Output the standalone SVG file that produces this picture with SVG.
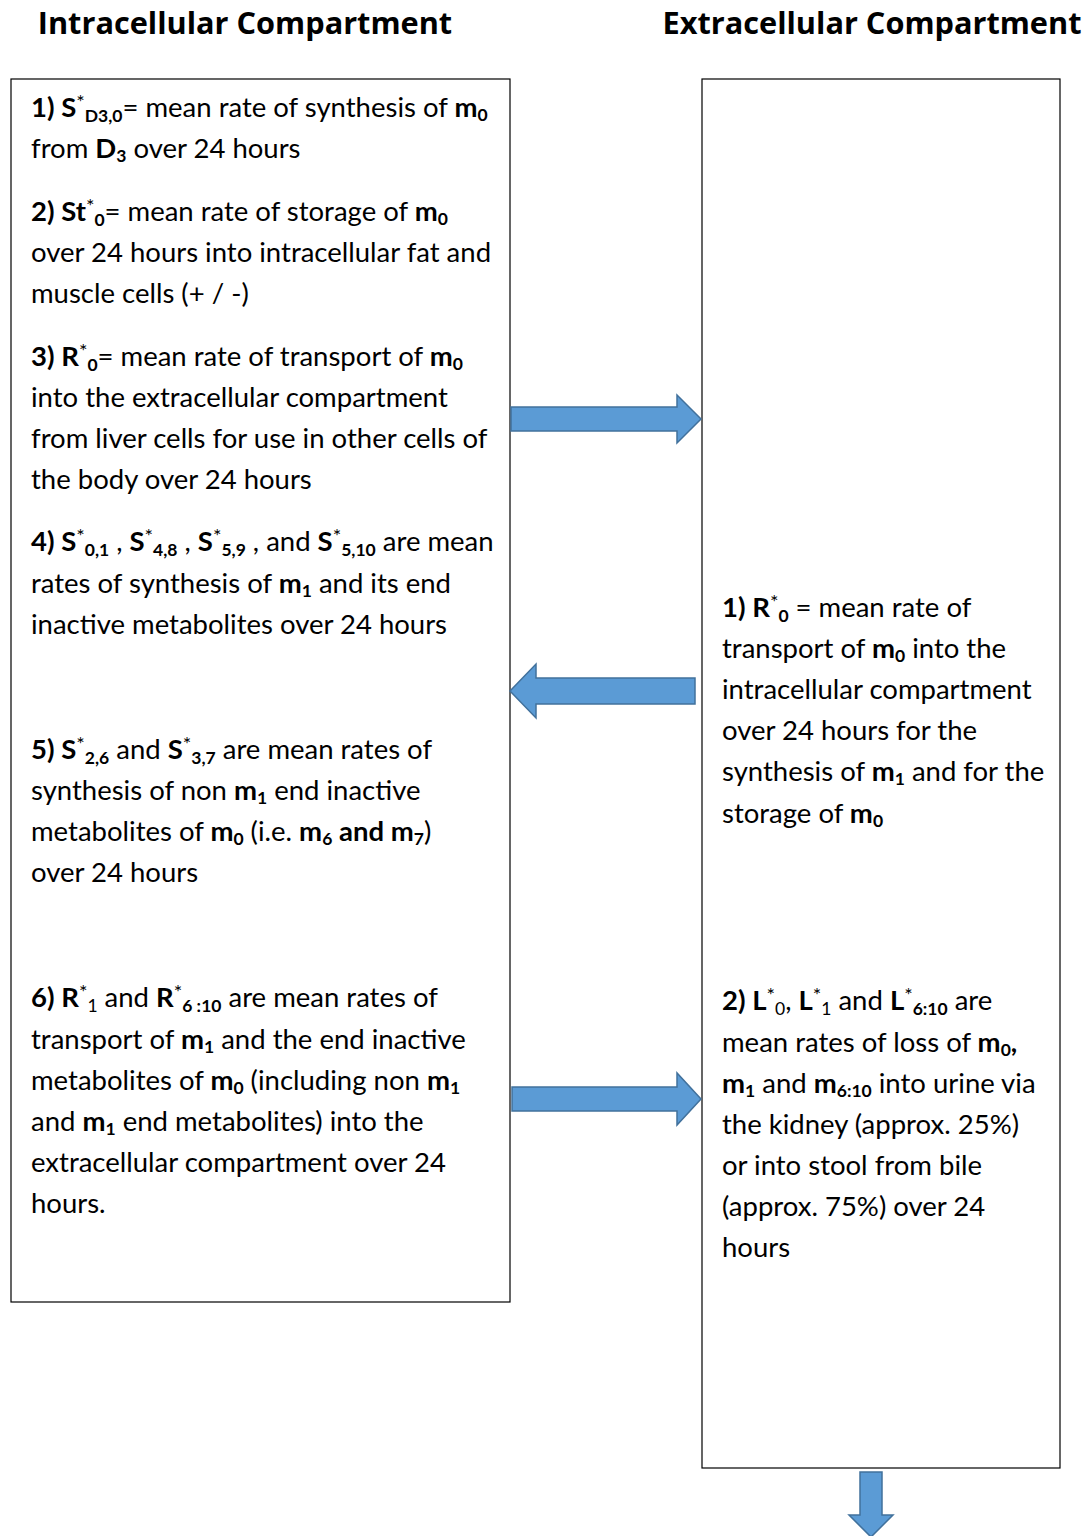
<svg xmlns="http://www.w3.org/2000/svg" width="1086" height="1536" viewBox="0 0 1086 1536">
<style>
.t{font-family:Lato,"Open Sans","Liberation Sans",sans-serif;font-size:27.5px;fill:#000}
.h{font-family:"Open Sans",Lato,"Liberation Sans",sans-serif;font-size:30.7px;font-weight:bold;fill:#000}
.b{font-weight:bold}
.s{font-size:17.5px}
.st{font-size:20px}
.box{fill:#fff;stroke:#000;stroke-width:1.2}
.arr{fill:#5B9BD5;stroke:#41719C;stroke-width:1.5}
</style>
<rect width="1086" height="1536" fill="#fff"/>
<g id="titles">
<text class="h" x="245" y="34" text-anchor="middle">Intracellular Compartment</text>
<text class="h" x="872" y="34" text-anchor="middle">Extracellular Compartment</text>
</g>
<g id="intracellular">
<rect class="box" x="11" y="79" width="499" height="1223"/>
<text class="t" x="31" y="117"><tspan class="b">1) S</tspan><tspan class="st" dy="-8">*</tspan><tspan class="s b" dy="13">D3,0</tspan><tspan dy="-5">= mean rate of synthesis of </tspan><tspan class="b">m</tspan><tspan class="s b" dy="4">0</tspan></text>
<text class="t" x="31" y="158">from <tspan class="b">D</tspan><tspan class="s b" dy="4">3</tspan><tspan dy="-4"> over 24 hours</tspan></text>
<text class="t" x="31" y="221"><tspan class="b">2) St</tspan><tspan class="st" dy="-8">*</tspan><tspan class="s b" dy="13">0</tspan><tspan dy="-5">= mean rate of storage of </tspan><tspan class="b">m</tspan><tspan class="s b" dy="4">0</tspan></text>
<text class="t" x="31" y="262">over 24 hours into intracellular fat and</text>
<text class="t" x="31" y="303">muscle cells (+ / -)</text>
<text class="t" x="31" y="366"><tspan class="b">3) R</tspan><tspan class="st" dy="-8">*</tspan><tspan class="s b" dy="13">0</tspan><tspan dy="-5">= mean rate of transport of </tspan><tspan class="b">m</tspan><tspan class="s b" dy="4">0</tspan></text>
<text class="t" x="31" y="407">into the extracellular compartment</text>
<text class="t" x="31" y="448">from liver cells for use in other cells of</text>
<text class="t" x="31" y="489">the body over 24 hours</text>
<text class="t" x="31" y="551"><tspan class="b">4) S</tspan><tspan class="st" dy="-8">*</tspan><tspan class="s b" dy="13">0,1</tspan><tspan dy="-5"> , </tspan><tspan class="b">S</tspan><tspan class="st" dy="-8">*</tspan><tspan class="s b" dy="13">4,8</tspan><tspan dy="-5"> , </tspan><tspan class="b">S</tspan><tspan class="st" dy="-8">*</tspan><tspan class="s b" dy="13">5,9</tspan><tspan dy="-5"> , and </tspan><tspan class="b">S</tspan><tspan class="st" dy="-8">*</tspan><tspan class="s b" dy="13">5,10</tspan><tspan dy="-5"> are mean</tspan></text>
<text class="t" x="31" y="593">rates of synthesis of <tspan class="b">m</tspan><tspan class="s b" dy="4">1</tspan><tspan dy="-4"> and its end</tspan></text>
<text class="t" x="31" y="634">inactive metabolites over 24 hours</text>
<text class="t" x="31" y="759"><tspan class="b">5) S</tspan><tspan class="st" dy="-8">*</tspan><tspan class="s b" dy="13">2,6</tspan><tspan dy="-5"> and </tspan><tspan class="b">S</tspan><tspan class="st" dy="-8">*</tspan><tspan class="s b" dy="13">3,7</tspan><tspan dy="-5"> are mean rates of</tspan></text>
<text class="t" x="31" y="800">synthesis of non <tspan class="b">m</tspan><tspan class="s b" dy="4">1</tspan><tspan dy="-4"> end inactive</tspan></text>
<text class="t" x="31" y="841">metabolites of <tspan class="b">m</tspan><tspan class="s b" dy="4">0</tspan><tspan dy="-4"> (i.e. </tspan><tspan class="b">m</tspan><tspan class="s b" dy="4">6</tspan><tspan class="b" dy="-4"> and m</tspan><tspan class="s b" dy="4">7</tspan><tspan dy="-4">)</tspan></text>
<text class="t" x="31" y="882">over 24 hours</text>
<text class="t" x="31" y="1007"><tspan class="b">6) R</tspan><tspan class="st" dy="-8">*</tspan><tspan class="s" dy="13">1</tspan><tspan dy="-5"> and </tspan><tspan class="b">R</tspan><tspan class="st" dy="-8">*</tspan><tspan class="s b" dy="13">6 :10</tspan><tspan dy="-5"> are mean rates of</tspan></text>
<text class="t" x="31" y="1049">transport of <tspan class="b">m</tspan><tspan class="s b" dy="4">1</tspan><tspan dy="-4"> and the end inactive</tspan></text>
<text class="t" x="31" y="1090">metabolites of <tspan class="b">m</tspan><tspan class="s b" dy="4">0</tspan><tspan dy="-4"> (including non </tspan><tspan class="b">m</tspan><tspan class="s b" dy="4">1</tspan></text>
<text class="t" x="31" y="1131">and <tspan class="b">m</tspan><tspan class="s b" dy="4">1</tspan><tspan dy="-4"> end metabolites) into the</tspan></text>
<text class="t" x="31" y="1172">extracellular compartment over 24</text>
<text class="t" x="31" y="1213">hours.</text>
</g>
<g id="extracellular">
<rect class="box" x="702" y="79" width="358" height="1389"/>
<text class="t" x="722" y="617"><tspan class="b">1) R</tspan><tspan class="st" dy="-8">*</tspan><tspan class="s b" dy="13">0</tspan><tspan dy="-5"> = mean rate of</tspan></text>
<text class="t" x="722" y="658">transport of <tspan class="b">m</tspan><tspan class="s b" dy="4">0</tspan><tspan dy="-4"> into the</tspan></text>
<text class="t" x="722" y="699">intracellular compartment</text>
<text class="t" x="722" y="740">over 24 hours for the</text>
<text class="t" x="722" y="781">synthesis of <tspan class="b">m</tspan><tspan class="s b" dy="4">1</tspan><tspan dy="-4"> and for the</tspan></text>
<text class="t" x="722" y="823">storage of <tspan class="b">m</tspan><tspan class="s b" dy="4">0</tspan></text>
<text class="t" x="722" y="1010"><tspan class="b">2) L</tspan><tspan class="st" dy="-8">*</tspan><tspan class="s" dy="13">0</tspan><tspan dy="-5">, </tspan><tspan class="b">L</tspan><tspan class="st" dy="-8">*</tspan><tspan class="s" dy="13">1</tspan><tspan dy="-5">  and </tspan><tspan class="b">L</tspan><tspan class="st" dy="-8">*</tspan><tspan class="s b" dy="13">6:10</tspan><tspan dy="-5">  are</tspan></text>
<text class="t" x="722" y="1052">mean rates of loss of <tspan class="b">m</tspan><tspan class="s b" dy="4">0</tspan><tspan class="b" dy="-4">,</tspan></text>
<text class="t" x="722" y="1093"><tspan class="b">m</tspan><tspan class="s b" dy="4">1</tspan><tspan dy="-4"> and </tspan><tspan class="b">m</tspan><tspan class="s b" dy="4">6:10</tspan><tspan dy="-4"> into urine via</tspan></text>
<text class="t" x="722" y="1134">the kidney (approx. 25%)</text>
<text class="t" x="722" y="1175">or into stool from bile</text>
<text class="t" x="722" y="1216">(approx. 75%) over 24</text>
<text class="t" x="722" y="1257">hours</text>
</g>
<g id="connectors">
<path class="arr" d="M511,407 H677 V395 L701,419 L677,443 V431 H511 Z"/>
<path class="arr" d="M695,678 H536 V664 L510,691 L536,718 V704 H695 Z"/>
<path class="arr" d="M512,1087 H677 V1073 L701,1099 L677,1125 V1111 H512 Z"/>
<path class="arr" d="M860,1472 H882 V1515 H893 L871,1537 L849,1515 H860 Z"/>
</g>
</svg>
